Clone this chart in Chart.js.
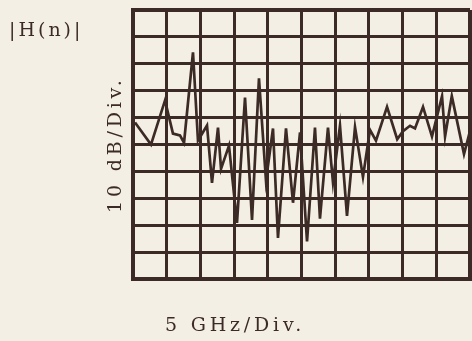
<!DOCTYPE html>
<html>
<head>
<meta charset="utf-8">
<script src="https://cdn.jsdelivr.net/npm/chart.js@4/dist/chart.umd.min.js"></script>
<style>
  html, body { margin: 0; padding: 0; background: #f4efe4; }
  canvas { display: block; }
</style>
</head>
<body>
<canvas id="plot" width="472" height="341"></canvas>
<script>
// Transfer-function magnitude trace: frequency (GHz) and level (dB)
const freqGHz = [0.3, 2.67, 4.75, 5.93, 6.97, 7.57, 8.9, 9.64, 10.98, 11.72, 12.61, 13.06, 14.24, 15.43,
  16.62, 17.66, 18.69, 19.73, 20.77, 21.51, 22.7, 23.74, 24.78, 25.82, 27.0, 27.74, 28.93, 29.67,
  30.71, 31.75, 32.94, 34.12, 35.16, 36.05, 37.69, 39.2, 40.06, 41.1, 41.84, 43.03, 44.36, 45.85, 46.3,
  47.3, 49.11, 50.0];
const magDb = [-41.8, -50.0, -33.6, -45.9, -46.6, -49.3, -15.7, -48.5, -42.9, -64.2, -43.7, -59.0,
  -50.4, -79.1, -32.5, -78.0, -25.4, -63.4, -44.0, -84.7, -44.0, -71.6, -45.5, -86.0, -43.7, -77.5,
  -43.7, -64.0, -43.0, -76.5, -43.5, -62.0, -44.5, -48.5, -36.0, -48.0, -45.0, -43.0, -44.0, -36.0, -47.0,
  -32.0, -47.0, -32.0, -53.5, -45.0];

// Axis ranges: 10 divisions each way
const freqRange = [0, 50];   // 5 GHz per division
const levelRange = [-100, 0]; // 10 dB per division
const freqStep = 5;
const levelStep = 10;

// Labels
const yLabel = '10 dB/Div.';
const xLabel = '5 GHz/Div.';
const traceLabel = '|H(n)|';

const ink = '#3b2a25';
const typeFace = '"DejaVu Serif", serif';

const points = freqGHz.map((f, i) => ({ x: f, y: magDb[i] }));

const typewriter = {
  id: 'typewriter',
  beforeDraw(chart) {
    chart.ctx.letterSpacing = '3.8px';
  },
  afterDraw(chart) {
    const ctx = chart.ctx;
    ctx.save();
    ctx.letterSpacing = '3px';
    ctx.font = '19px ' + typeFace;
    ctx.fillStyle = ink;
    ctx.textAlign = 'left';
    ctx.textBaseline = 'middle';
    ctx.fillText(traceLabel, 9, 31);
    ctx.restore();
  }
};

new Chart(document.getElementById('plot'), {
  type: 'line',
  data: {
    datasets: [{
      label: traceLabel,
      data: points,
      borderColor: ink,
      borderWidth: 2.7,
      pointRadius: 0,
      tension: 0,
      fill: false
    }]
  },
  options: {
    responsive: false,
    animation: false,
    devicePixelRatio: 1,
    layout: { padding: { top: 10, right: 2, left: 0, bottom: 0 } },
    plugins: {
      legend: { display: false },
      tooltip: { enabled: false },
      title: {
        display: true,
        text: xLabel,
        position: 'bottom',
        color: ink,
        font: { family: typeFace, size: 19, weight: 'normal', lineHeight: 1.2 },
        padding: { top: 35, bottom: 4 }
      }
    },
    scales: {
      x: {
        type: 'linear',
        min: freqRange[0],
        max: freqRange[1],
        ticks: { display: false, stepSize: freqStep },
        grid: {
          color: ink,
          lineWidth: (c) => (c.tick && c.tick.value === freqRange[1] ? 4 : 3),
          drawTicks: false
        },
        border: { display: true, color: ink, width: 4 },
        afterFit: (scale) => { scale.height = 0; }
      },
      y: {
        type: 'linear',
        min: levelRange[0],
        max: levelRange[1],
        ticks: { display: false, stepSize: levelStep },
        grid: {
          color: ink,
          lineWidth: (c) => (c.tick && c.tick.value === levelRange[1] ? 4 : 3),
          drawTicks: false
        },
        border: { display: true, color: ink, width: 4 },
        title: {
          display: true,
          text: yLabel,
          color: ink,
          font: { family: typeFace, size: 19, weight: 'normal', lineHeight: 1.2 },
          padding: { top: 105, bottom: 0 }
        },
        afterFit: (scale) => { scale.width = 133; }
      }
    }
  },
  plugins: [typewriter]
});
</script>
</body>
</html>
